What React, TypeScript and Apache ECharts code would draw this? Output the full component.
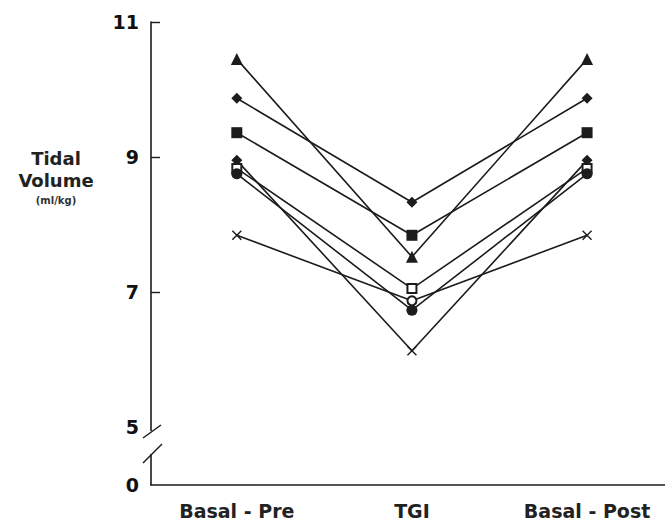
import React, { useEffect, useRef } from "react";
import * as echarts from "echarts";

const categories = ["Basal - Pre", "TGI", "Basal - Post"];
const subjectA = [10.45, 7.52, 10.45];
const subjectB = [9.87, 8.33, 9.87];
const subjectC = [9.36, 7.84, 9.36];
const subjectD = [8.95, 6.13, 8.95];
const subjectE = [8.83, 7.05, 8.83];
const subjectF = [8.75, 6.73, 8.75];
const subjectG = [7.84, 6.87, 7.84];
const yTickValues = [5, 7, 9, 11];
const yBreakLabel = "0";
const yTitle = ["Tidal", "Volume", "(ml/kg)"];

const X_SYM = "path://M1,0 L5,4 L9,0 L10,1 L6,5 L10,9 L9,10 L5,6 L1,10 L0,9 L4,5 L0,1 Z";

const subjects = [subjectA, subjectB, subjectC, subjectD, subjectE, subjectF, subjectG];
const symbolsPerSubject: string[][] = [
  ["triangle", "triangle", "triangle"],
  ["diamond", "diamond", "diamond"],
  ["rect", "rect", "rect"],
  ["diamond", X_SYM, "diamond"],
  ["emptyRect", "emptyRect", "emptyRect"],
  ["circle", "circle", "circle"],
  [X_SYM, "emptyCircle", X_SYM],
];

const INK = "#1c1c1c";
const FONT = "DejaVu Sans";

export default function App() {
  const ref = useRef<HTMLDivElement>(null);
  useEffect(() => {
    if (!ref.current) return;
    const chart = echarts.init(ref.current, null, { renderer: "svg" });
    const yMin = 4.14;
    // category positions 0,1,2; axis spans from left edge of first band-ish to right edge of the page
    const xMin = -0.49;
    const xMax = 2.445;
    const series = subjects.map((vals, i) => ({
      type: "line",
      data: vals.map((v, j) => {
        const sym = symbolsPerSubject[i][j];
        const empty = sym.startsWith("empty");
        return {
          value: [j, v],
          symbol: sym,
          symbolSize: sym === "triangle" ? 12 : sym === X_SYM ? 10 : empty ? 9 : 11,
          itemStyle: empty
            ? { color: INK, borderColor: INK, borderWidth: 2 }
            : { color: INK, borderWidth: 0 },
        };
      }),
      lineStyle: { color: INK, width: 1.6 },
      itemStyle: { color: INK },
      showSymbol: true,
      z: 3,
    }));

    chart.setOption({
      animation: false,
      backgroundColor: "#fff",
      grid: { left: 151, top: 22, bottom: 39, right: 0, containLabel: false },
      xAxis: {
        type: "value",
        min: xMin,
        max: xMax,
        axisLine: { show: true, onZero: false, lineStyle: { color: INK, width: 1.6 } },
        axisTick: { show: false },
        axisLabel: {
          customValues: categories.map((_, i) => i),
          formatter: (v: number) => categories[Math.round(v)] ?? "",
          color: "#222",
          fontFamily: FONT,
          fontWeight: "bold",
          fontSize: 19,
          margin: 16,
        },
        splitLine: { show: false },
      },
      yAxis: {
        type: "value",
        min: yMin,
        max: 11,
        axisLine: { show: true, onZero: false, lineStyle: { color: INK, width: 1.6 } },
        axisTick: {
          show: true,
          inside: true,
          length: 9,
          customValues: yTickValues.filter((v) => v !== 5),
          lineStyle: { color: INK, width: 1.4 },
        },
        axisLabel: {
          customValues: [yMin, ...yTickValues],
          formatter: (v: number) => (Math.abs(v - yMin) < 0.01 ? yBreakLabel : String(Math.round(v))),
          color: "#111",
          fontFamily: FONT,
          fontWeight: "bold",
          fontSize: 19,
          margin: 12,
        },
        splitLine: { show: false },
      },
      graphic: [
        {
          type: "rect",
          shape: { x: 145, y: 431, width: 12, height: 23 },
          style: { fill: "#fff" },
          z: 100,
        },
        {
          type: "line",
          shape: { x1: 143, y1: 438, x2: 161, y2: 425 },
          style: { stroke: INK, lineWidth: 1.5 },
          z: 101,
        },
        {
          type: "line",
          shape: { x1: 143, y1: 463, x2: 162, y2: 444 },
          style: { stroke: INK, lineWidth: 1.5 },
          z: 101,
        },
        {
          type: "text",
          x: 56,
          y: 158,
          style: {
            text: yTitle[0],
            fontFamily: FONT,
            fontWeight: "bold",
            fontSize: 18,
            fill: "#222",
            align: "center",
            verticalAlign: "middle",
          },
          z: 100,
        },
        {
          type: "text",
          x: 56,
          y: 180,
          style: {
            text: yTitle[1],
            fontFamily: FONT,
            fontWeight: "bold",
            fontSize: 18,
            fill: "#222",
            align: "center",
            verticalAlign: "middle",
          },
          z: 100,
        },
        {
          type: "text",
          x: 56,
          y: 200,
          style: {
            text: yTitle[2],
            fontFamily: FONT,
            fontWeight: "bold",
            fontSize: 10,
            fill: "#333",
            align: "center",
            verticalAlign: "middle",
          },
          z: 100,
        },
      ],
      series,
    });
    return () => chart.dispose();
  }, []);
  return (
    <div
      ref={ref}
      style={{ position: "absolute", left: 0, top: 0, width: 665, height: 524, background: "#fff" }}
    />
  );
}
